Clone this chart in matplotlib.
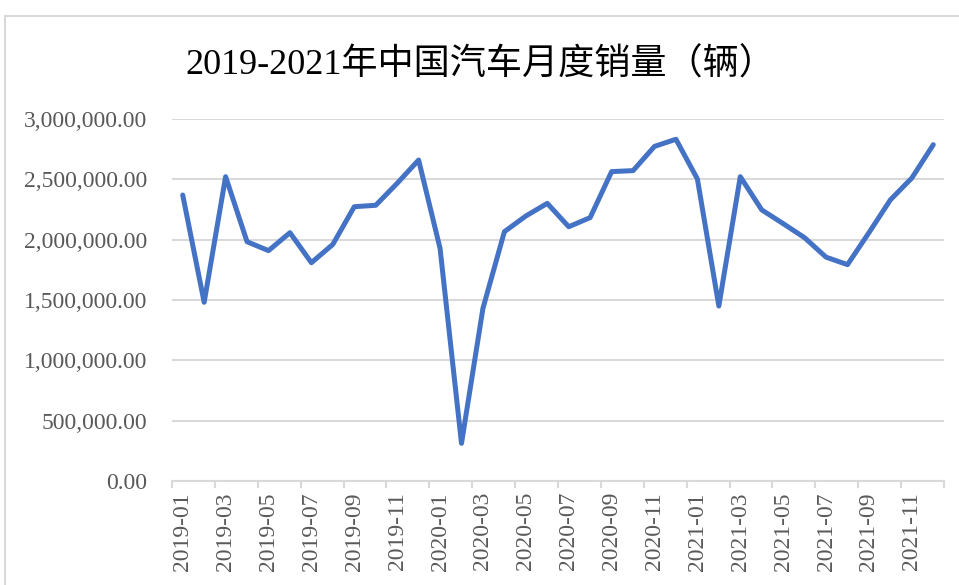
import numpy as np
import matplotlib
matplotlib.use("Agg")
import matplotlib.pyplot as plt
from matplotlib.patches import Rectangle
from matplotlib.ticker import FuncFormatter

# 月份 2019-01 .. 2021-12
months = [f"{y}-{m:02d}" for y in (2019, 2020, 2021) for m in range(1, 13)]

sales_2019 = [2370000, 1481000, 2522000, 1983000, 1909000, 2058000,
              1809000, 1961000, 2273000, 2285000, 2467000, 2660000]
sales_2020 = [1928000, 312000, 1431000, 2066000, 2196000, 2301000,
              2107000, 2183000, 2564000, 2572000, 2773000, 2832000]
sales_2021 = [2503000, 1450000, 2522000, 2247000, 2133000, 2016000,
              1855000, 1793000, 2058000, 2330000, 2511000, 2787000]
sales = sales_2019 + sales_2020 + sales_2021

title = "2019-2021年中国汽车月度销量（辆）"

plt.rcParams['font.family'] = ['Liberation Serif', 'Noto Sans CJK SC', 'DejaVu Sans']

fig = plt.figure(figsize=(9.59, 5.85), dpi=100)
ax = fig.add_axes([172 / 959, 1 - 481 / 585, (944 - 172) / 959, (481 - 119) / 585])

x = np.arange(len(sales))
ax.plot(x, sales, color='#4472C4', lw=3.6, solid_capstyle='round',
        solid_joinstyle='round', zorder=3)

ax.set_xlim(-0.5, len(sales) - 0.5)
ax.set_ylim(0, 3000000)
ax.set_yticks(np.arange(0, 3000001, 500000))
ax.yaxis.set_major_formatter(FuncFormatter(lambda v, p: f"{v:,.2f}"))
ax.grid(axis='y', color='#d9d9d9', lw=1.5)
ax.set_axisbelow(True)

ax.set_xticks(x[::2])
ax.set_xticklabels(months[::2], rotation=90)
ax.set_xticks(np.arange(-0.5, len(sales), 2), minor=True)
ax.tick_params(axis='x', which='major', length=0, pad=8, labelsize=17, labelcolor='#595959')
ax.tick_params(axis='x', which='minor', length=5, color='#d9d9d9', width=1.5)
ax.tick_params(axis='y', length=0, pad=18, labelsize=17, labelcolor='#595959')

for s in ('top', 'right', 'left'):
    ax.spines[s].set_visible(False)
ax.spines['bottom'].set_color('#d9d9d9')
ax.spines['bottom'].set_linewidth(1.5)

fig.text(480 / 959, 1 - 65 / 585, title, ha='center', va='center', fontsize=26, color='black')

# 图表区边框
fig.patches.append(Rectangle((5 / 959, -0.1), 1.2, 1 - 16 / 585 + 0.1,
                             transform=fig.transFigure, fill=False,
                             edgecolor='#d9d9d9', lw=1.5))

fig.savefig("out.png", dpi=100)
